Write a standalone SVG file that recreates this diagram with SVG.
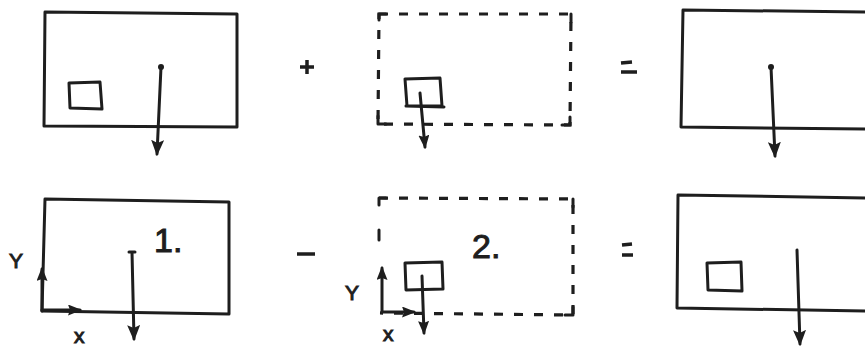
<svg xmlns="http://www.w3.org/2000/svg" width="865" height="347" viewBox="0 0 865 347">
<style>
.ln{fill:none;stroke:#1e1e1e;stroke-width:3;stroke-linecap:round;stroke-linejoin:round}
.ds{fill:none;stroke:#1e1e1e;stroke-width:3.2;stroke-dasharray:9 11;stroke-linecap:butt}
.op{stroke:#1e1e1e;stroke-width:3.5;stroke-linecap:butt}
.lab{font-family:"Liberation Sans",Arial,sans-serif;fill:#1e1e1e;stroke:#1e1e1e;stroke-width:1}
.num{font-size:34px}
.ax{font-size:21px}
</style>
<defs>
<marker id="ah" viewBox="0 0 16 13" refX="14" refY="6.5" markerWidth="16" markerHeight="13" markerUnits="userSpaceOnUse" orient="auto">
<path d="M0,0 L16,6.5 L0,13 L3,6.5 Z" fill="#1e1e1e"/>
</marker>
<marker id="ahs" viewBox="0 0 14 11" refX="12" refY="5.5" markerWidth="14" markerHeight="11" markerUnits="userSpaceOnUse" orient="auto">
<path d="M0,0 L14,5.5 L0,11 L2,5.5 Z" fill="#1e1e1e"/>
</marker>
</defs>
<g id="panel1">
<path class="ln" d="M45,12 L237,14 L237,127 L44,126 Z"/>
<path class="ln" d="M69,83 L100,82 L102,109 L70,108 Z"/>
</g>
<g id="plus"><path class="op" d="M300,67 L314,67 M307,60 L307,74"/></g>
<g id="panel2">
<path class="ds" d="M379,14 L571,14 L570,125 L378,124 Z"/>
<path class="ln" d="M379,14 L379,20 M379,14 L386,14 M571,14 L571,22 M378,124 L378,116 M378,124 L386,124 M570,125 L570,117 M570,125 L562,125"/>
<path class="ln" d="M405,79 L440,78 L442,106 L407,106 Z M406,106 L444,107"/>
</g>
<g id="eq1"><path class="op" d="M621,63 L632,62 M621,72 L637,72"/></g>
<g id="panel3">
<path class="ln" d="M866,12 L683,10 L681,127 L866,129"/>
</g>
<g id="panel4">
<path class="ln" d="M45,199 L229,202 L229,314 L42,311 Z"/>
<text class="lab num" x="154" y="252">1.</text>
</g>
<g id="minus"><path class="op" d="M297,254 L315,254"/></g>
<g id="panel5">
<path class="ds" d="M379,198 L573,199 L573,315 L380,313"/>
<path class="ln" d="M379,198 L379,205 M379,198 L386,198 M573,199 L573,207 M573,315 L573,307 M573,315 L565,315"/>
<path class="ln" d="M379,230 L379,240"/>
<text class="lab num" x="472" y="258">2.</text>
<path class="ln" d="M405,263 L442,262 L443,289 L406,290 Z"/>
</g>
<g id="eq2"><path class="op" d="M622,245 L632,244 M622,255 L633,255"/></g>
<g id="panel6">
<path class="ln" d="M866,198 L678,195 L677,308 L866,311"/>
<path class="ln" d="M707,263 L741,262 L742,291 L708,290 Z"/>
</g>
<g id="axes1">
<path class="ln" d="M42,311 L42,269" marker-end="url(#ahs)"/>
<path class="ln" d="M42,310 L80,310" marker-end="url(#ahs)"/>
<text class="lab ax" x="9" y="268">Y</text>
<text class="lab ax" x="74" y="343">x</text>
</g>
<g id="axes2">
<path class="ln" d="M382,312 L382,268" marker-end="url(#ahs)"/>
<path class="ln" d="M382,312 L414,312" marker-end="url(#ahs)"/>
<text class="lab ax" x="345" y="300">Y</text>
<text class="lab ax" x="383" y="341">x</text>
</g>
<g id="connectors">
<circle cx="161" cy="67" r="3" fill="#1e1e1e"/>
<path class="ln" d="M161,67 L157,154" marker-end="url(#ah)"/>
<path class="ln" d="M420,93 L425,147" marker-end="url(#ahs)"/>
<circle cx="771" cy="67" r="3" fill="#1e1e1e"/>
<path class="ln" d="M771,67 L775,156" marker-end="url(#ah)"/>
<path class="ln" d="M129,252 L135,252 M132,252 L134,339" marker-end="url(#ah)"/>
<path class="ln" d="M422,276 L424,333" marker-end="url(#ahs)"/>
<path class="ln" d="M797,250 L800,344" marker-end="url(#ah)"/>
</g>
</svg>
